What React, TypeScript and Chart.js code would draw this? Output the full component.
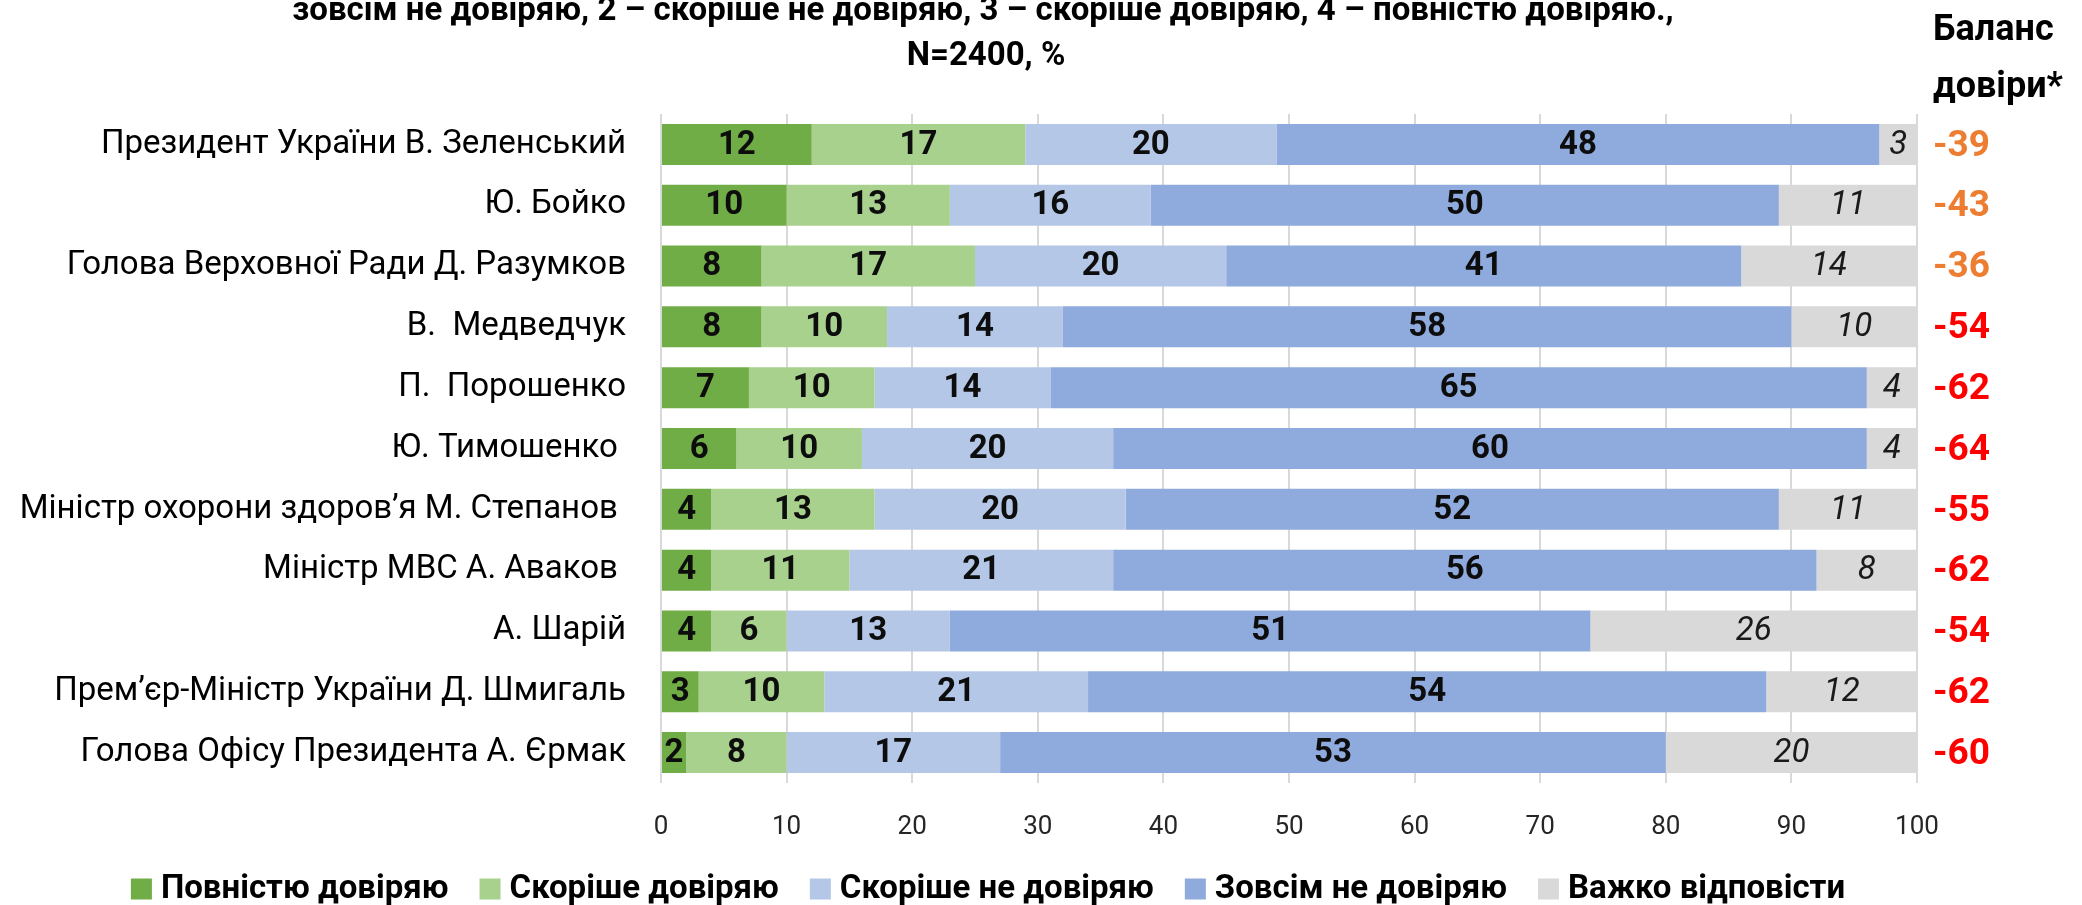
import React, { useEffect, useRef } from 'react';
import { Chart, registerables } from 'chart.js';

Chart.register(...registerables);

const categories = [
  'Президент України В. Зеленський',
  'Ю. Бойко',
  'Голова Верховної Ради Д. Разумков',
  'В.  Медведчук',
  'П.  Порошенко',
  'Ю. Тимошенко ',
  'Міністр охорони здоров’я М. Степанов ',
  'Міністр МВС А. Аваков ',
  'А. Шарій',
  'Прем’єр-Міністр України Д. Шмигаль',
  'Голова Офісу Президента А. Єрмак',
];

const fullyTrust = [12, 10, 8, 8, 7, 6, 4, 4, 4, 3, 2];
const ratherTrust = [17, 13, 17, 10, 10, 10, 13, 11, 6, 10, 8];
const ratherDistrust = [20, 16, 20, 14, 14, 20, 20, 21, 13, 21, 17];
const fullyDistrust = [48, 50, 41, 58, 65, 60, 52, 56, 51, 54, 53];
const hardToSay = [3, 11, 14, 10, 4, 4, 11, 8, 26, 12, 20];
const trustBalance = [-39, -43, -36, -54, -62, -64, -55, -62, -54, -62, -60];

const seriesNames = [
  'Повністю довіряю',
  'Скоріше довіряю',
  'Скоріше не довіряю',
  'Зовсім не довіряю',
  'Важко відповісти',
];

const titleLines = [
  'зовсім не довіряю, 2 – скоріше не довіряю, 3 – скоріше довіряю, 4 – повністю довіряю.,',
  'N=2400, %',
];
const balanceHeader = ['Баланс', 'довіри*'];

const FONT = "Roboto, 'Noto Sans', sans-serif";
const COLORS = ['#70AD47', '#A9D18E', '#B4C7E7', '#8FAADC', '#D9D9D9'];

const overlayPlugin = {
  id: 'overlay',
  afterDatasetsDraw(chart: any) {
    const ctx = chart.ctx;
    ctx.save();
    ctx.textAlign = 'center';
    ctx.textBaseline = 'middle';
    chart.data.datasets.forEach((ds: any, i: number) => {
      const meta = chart.getDatasetMeta(i);
      const last = i === chart.data.datasets.length - 1;
      ctx.font = last ? `italic 400 33px ${FONT}` : `700 33px ${FONT}`;
      ctx.fillStyle = last ? '#1a1a1a' : '#0d0d0d';
      meta.data.forEach((bar: any, j: number) => {
        const p = bar.getProps(['x', 'base', 'y'], true);
        const cx = (p.x + p.base) / 2;
        ctx.fillText(String(ds.data[j]), cx, p.y + 1);
      });
    });
    ctx.restore();
  },
  afterDraw(chart: any) {
    const ctx = chart.ctx;
    const yScale = chart.scales.y;
    ctx.save();
    // Title
    ctx.font = `700 33px ${FONT}`;
    ctx.fillStyle = '#000';
    ctx.textAlign = 'center';
    ctx.textBaseline = 'alphabetic';
    ctx.fillText(titleLines[0], 983, 20);
    ctx.fillText(titleLines[1], 986, 65);

    // Balance header
    ctx.textAlign = 'left';
    ctx.font = `700 36px ${FONT}`;
    ctx.fillText(balanceHeader[0], 1933, 40);
    ctx.fillText(balanceHeader[1], 1933, 97);

    // Balance values
    ctx.font = `700 37px ${FONT}`;
    ctx.textBaseline = 'middle';
    trustBalance.forEach((v, i) => {
      ctx.fillStyle = v >= -50 ? '#ED7D31' : '#FF0000';
      ctx.fillText(String(v), 1933, yScale.getPixelForValue(i) + 2);
    });

    // Legend
    ctx.font = `700 33px ${FONT}`;
    const box = 21;
    const gapBoxText = 9;
    const gapItems = 31;
    const widths = seriesNames.map((s) => ctx.measureText(s).width);
    const total =
      widths.reduce((a, w) => a + w + box + gapBoxText, 0) + gapItems * (seriesNames.length - 1);
    let x = 988 - total / 2;
    const ly = 889;
    seriesNames.forEach((s, i) => {
      ctx.fillStyle = COLORS[i];
      ctx.fillRect(x, ly - box / 2, box, box);
      ctx.fillStyle = '#000';
      ctx.textBaseline = 'middle';
      ctx.fillText(s, x + box + gapBoxText, ly + 1);
      x += box + gapBoxText + widths[i] + gapItems;
    });
    ctx.restore();
  },
};

export default function App() {
  const ref = useRef<HTMLCanvasElement | null>(null);

  useEffect(() => {
    document.body.style.margin = '0';
    document.body.style.overflow = 'hidden';
    const canvas = ref.current;
    if (!canvas) return;
    const seriesData = [fullyTrust, ratherTrust, ratherDistrust, fullyDistrust, hardToSay];
    const chart = new Chart(canvas, {
      type: 'bar',
      data: {
        labels: categories,
        datasets: seriesData.map((d, i) => ({
          label: seriesNames[i],
          data: d,
          backgroundColor: COLORS[i],
          borderWidth: 0,
          barPercentage: 0.674,
          categoryPercentage: 1,
        })),
      },
      options: {
        indexAxis: 'y',
        responsive: false,
        animation: false,
        devicePixelRatio: 1,
        layout: { padding: { top: 114, right: 165, bottom: 62, left: 0 } },
        plugins: {
          legend: { display: false },
          title: { display: false },
          tooltip: { enabled: false },
        },
        scales: {
          x: {
            type: 'linear',
            stacked: true,
            min: 0,
            max: 100,
            ticks: {
              stepSize: 10,
              padding: 29,
              color: '#262626',
              font: { family: FONT, size: 26 },
            },
            grid: { color: '#D9D9D9', lineWidth: 2, drawTicks: false },
            border: { display: false },
            afterFit: (scale: any) => {
              scale.height = 60;
            },
          },
          y: {
            type: 'category',
            stacked: true,
            ticks: {
              padding: 35,
              color: '#000',
              font: { family: FONT, size: 33 },
            },
            grid: { display: false, drawTicks: false },
            border: { display: false },
            afterFit: (scale: any) => {
              scale.width = 661;
            },
          },
        },
      } as any,
      plugins: [overlayPlugin],
    });
    return () => chart.destroy();
  }, []);

  return (
    <div style={{ position: 'absolute', left: 0, top: 0, width: 2082, height: 905 }}>
      <canvas ref={ref} width={2082} height={905} style={{ display: 'block' }} />
    </div>
  );
}
